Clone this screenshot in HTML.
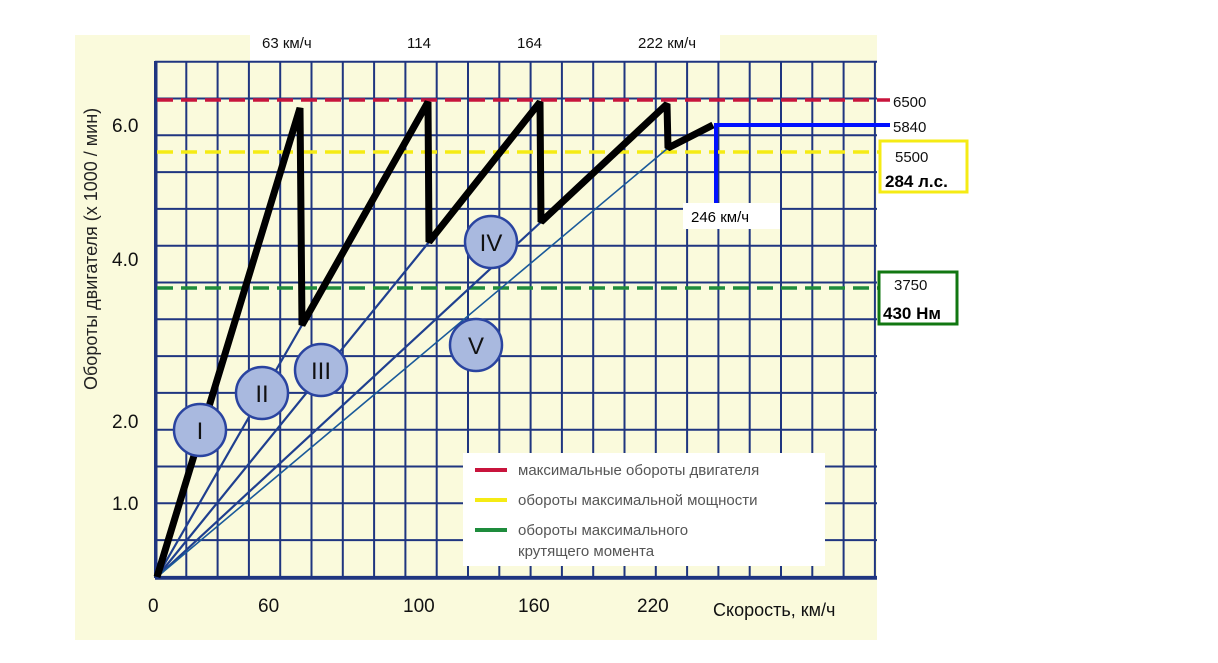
<!DOCTYPE html>
<html><head><meta charset="utf-8"><style>
body{margin:0;width:1218px;height:658px;background:#fff;overflow:hidden}
text{font-family:"Liberation Sans","DejaVu Sans",sans-serif}
</style></head><body>
<svg width="1218" height="658" viewBox="0 0 1218 658">
<rect x="75" y="35" width="802" height="605" fill="#fafadc"/>
<rect x="250" y="35" width="470" height="26" fill="#fff"/>
<rect x="877" y="35" width="10" height="605" fill="#fff"/>
<g id="g" stroke="#1f3580" stroke-width="2"></g>
<rect x="463" y="453" width="362" height="113" fill="#fff"/>
<g stroke-width="3.5" stroke-dasharray="16,8">
<line x1="157" y1="100" x2="890" y2="100" stroke="#c8143c"/>
<line x1="157" y1="152" x2="880" y2="152" stroke="#f5eb14"/>
<line x1="157" y1="288" x2="878" y2="288" stroke="#1e8c3c"/>
</g>
<g stroke="#1f3f8f" stroke-width="2.2" fill="none">
<line x1="157" y1="577" x2="302" y2="325"/>
<line x1="157" y1="577" x2="429" y2="242"/>
<line x1="157" y1="577" x2="541" y2="222"/>
<line x1="157" y1="577" x2="668" y2="148" stroke="#1a5a9a" stroke-width="1.6"/>
</g>
<path d="M157 577 L300 108 L302 325 L428 102 L429 242 L540 102 L541 222 L667 104 L668 148 L713 125" fill="none" stroke="#000" stroke-width="7" stroke-linejoin="bevel"/>
<path d="M716 205 V125 H890" fill="none" stroke="#0010ff" stroke-width="4"/>
<rect x="683" y="203" width="97" height="26" fill="#fff"/>
<text x="691" y="222" font-size="15">246 км/ч</text>
<g fill="#a9b9df" stroke="#2a44a0" stroke-width="2.5">
<circle cx="200" cy="430" r="26"/><circle cx="262" cy="393" r="26"/><circle cx="321" cy="370" r="26"/><circle cx="491" cy="242" r="26"/><circle cx="476" cy="345" r="26"/>
</g>
<g font-size="24" fill="#111" text-anchor="middle">
<text x="200" y="439">I</text><text x="262" y="402">II</text><text x="321" y="379">III</text><text x="491" y="251">IV</text><text x="476" y="354">V</text>
</g>
<g stroke-width="4"><line x1="475" y1="470" x2="507" y2="470" stroke="#c8143c"/><line x1="475" y1="500" x2="507" y2="500" stroke="#f5eb14"/><line x1="475" y1="530" x2="507" y2="530" stroke="#1e8c3c"/></g>
<g font-size="15" fill="#555">
<text x="518" y="475">максимальные обороты двигателя</text>
<text x="518" y="505">обороты максимальной мощности</text>
<text x="518" y="535">обороты максимального</text>
<text x="518" y="556">крутящего момента</text>
</g>
<g font-size="15" fill="#111">
<text x="262" y="48">63 км/ч</text><text x="407" y="48">114</text><text x="517" y="48">164</text><text x="638" y="48">222 км/ч</text>
<text x="893" y="107">6500</text><text x="893" y="132">5840</text><text x="895" y="162">5500</text><text x="894" y="290">3750</text>
</g>
<rect x="880" y="141" width="87" height="51" fill="none" stroke="#f5eb14" stroke-width="3"/>
<rect x="879" y="272" width="78" height="52" fill="none" stroke="#117711" stroke-width="3"/>
<text x="885" y="187" font-size="17" font-weight="bold">284 л.с.</text>
<text x="883" y="319" font-size="17" font-weight="bold">430 Нм</text>
<g font-size="19" fill="#111">
<text x="112" y="132">6.0</text><text x="112" y="266">4.0</text><text x="112" y="428">2.0</text><text x="112" y="510">1.0</text>
<text x="148" y="612">0</text><text x="258" y="612">60</text><text x="403" y="612">100</text><text x="518" y="612">160</text><text x="637" y="612">220</text>
<text x="713" y="616" font-size="18">Скорость, км/ч</text>
</g>
<text transform="translate(97,390) rotate(-90)" font-size="18" fill="#222">Обороты двигателя (х 1000 / мин)</text>
</svg>
<script>
var g=document.getElementById('g'),s='';
for(var i=0;i<=23;i++){var x=(155+i*31.3).toFixed(1);s+='<line x1="'+x+'" y1="61" x2="'+x+'" y2="578"/>';}
for(var j=0;j<=14;j++){var y=(61.7+j*36.8).toFixed(1);s+='<line x1="155" y1="'+y+'" x2="877" y2="'+y+'"/>';}
s+='<line x1="155" y1="578" x2="877" y2="578" stroke-width="3.5"/><line x1="156" y1="61" x2="156" y2="578" stroke-width="3"/>';
g.innerHTML=s;
</script>
</body></html>
